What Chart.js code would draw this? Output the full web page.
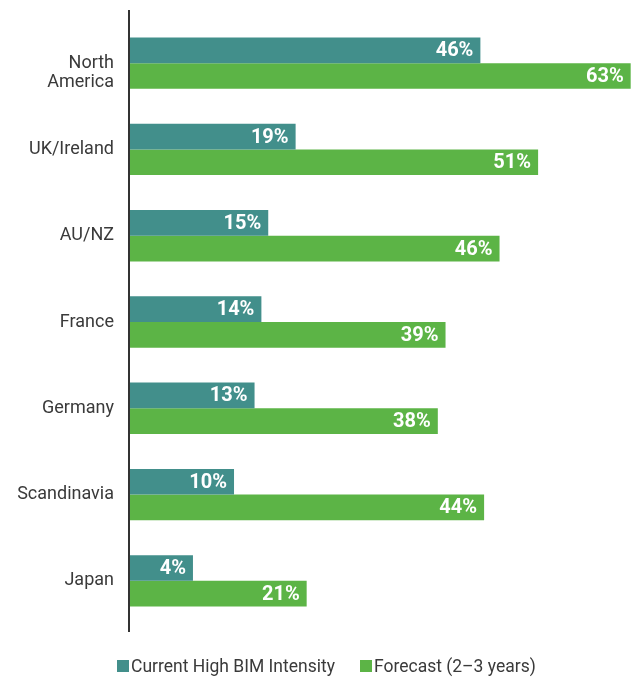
<!DOCTYPE html>
<html>
<head>
<meta charset="utf-8">
<script src="https://cdn.jsdelivr.net/npm/chart.js@4.4.1/dist/chart.umd.min.js"></script>
<style>
  html, body { margin: 0; padding: 0; background: #fff; }
  #wrap { position: relative; width: 639px; height: 677px; }
  #legend {
    position: absolute; left: 117px; top: 656px;
    font: 17.5px Roboto, sans-serif; color: #3a3a3a;
    display: flex; align-items: center; white-space: nowrap;
  }
  #legend span.box { display: inline-block; width: 12px; height: 12px; margin-right: 2px; }
  #legend span.item { display: flex; align-items: center; margin-right: 25px; }
</style>
</head>
<body>
<div id="wrap">
  <canvas id="chart" width="639" height="677"></canvas>
  <div id="legend"></div>
</div>
<script>
// first label sits a little below its bars in the original, hence the empty leading line
const regions = [['', 'North', 'America'], 'UK/Ireland', 'AU/NZ', 'France', 'Germany', 'Scandinavia', 'Japan']
const currentHigh = [46, 19, 15, 14, 13, 10, 4]
const forecast = [63, 51, 46, 39, 38, 44, 21]
const seriesNames = ['Current High BIM Intensity', 'Forecast (2\u20133 years)']
const colors = ['#428f8b', '#5cb446']

// the original drew each series on its own (hidden) scale
const currentRange = [-5.2, 68.3]
const forecastRange = [-1.9, 63.3]

// white value labels at the end of each bar
const barLabels = {
  id: 'barLabels',
  afterDatasetsDraw(chart) {
    const ctx = chart.ctx
    ctx.save()
    ctx.fillStyle = '#ffffff'
    ctx.font = 'bold 20px Roboto, sans-serif'
    ctx.textAlign = 'right'
    ctx.textBaseline = 'middle'
    chart.data.datasets.forEach((ds, i) => {
      chart.getDatasetMeta(i).data.forEach((bar, j) => {
        ctx.fillText(ds.data[j] + '%', bar.x - 7, bar.y + 1)
      })
    })
    ctx.restore()
  },
}

// vertical axis line, a bit longer than the plot area
const axisLine = {
  id: 'axisLine',
  afterDraw(chart) {
    const ctx = chart.ctx
    const x = chart.chartArea.left - 1
    ctx.save()
    ctx.strokeStyle = '#333333'
    ctx.lineWidth = 2
    ctx.beginPath()
    ctx.moveTo(x, 10)
    ctx.lineTo(x, 632)
    ctx.stroke()
    ctx.restore()
  },
}

new Chart(document.getElementById('chart'), {
  type: 'bar',
  data: {
    labels: regions,
    datasets: [
      {
        label: seriesNames[0], data: currentHigh, backgroundColor: colors[0],
        xAxisID: 'x', base: currentRange[0],
      },
      {
        label: seriesNames[1], data: forecast, backgroundColor: colors[1],
        xAxisID: 'x2', base: forecastRange[0],
      },
    ],
  },
  options: {
    indexAxis: 'y',
    responsive: false,
    animation: false,
    categoryPercentage: 0.595,
    barPercentage: 1.0,
    layout: { padding: { top: 20, right: 6, bottom: 53, left: 0 } },
    plugins: {
      legend: { display: false },
      tooltip: { enabled: false },
    },
    scales: {
      x: { display: false, min: currentRange[0], max: currentRange[1] },
      x2: { display: false, axis: 'x', min: forecastRange[0], max: forecastRange[1] },
      y: {
        grid: { display: false, drawTicks: false },
        border: { display: false },
        ticks: {
          color: '#3a3a3a',
          padding: 16,
          font: { family: 'Roboto, sans-serif', size: 18, lineHeight: 1.1 },
        },
        afterFit(scale) {
          scale.width = 130
          scale.paddingTop = 0
          scale.paddingBottom = 0
        },
      },
    },
  },
  plugins: [barLabels, axisLine],
})

const legend = document.getElementById('legend')
seriesNames.forEach((name, i) => {
  const item = document.createElement('span')
  item.className = 'item'
  item.innerHTML = '<span class="box" style="background:' + colors[i] + '"></span>' + name
  legend.appendChild(item)
})
</script>
</body>
</html>
